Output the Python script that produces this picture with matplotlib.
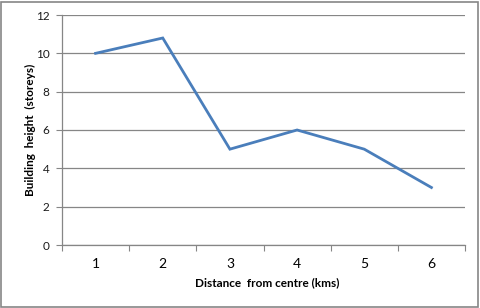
import matplotlib
matplotlib.use('Agg')
import matplotlib.pyplot as plt
from matplotlib.patches import Rectangle

# data
distance = [1, 2, 3, 4, 5, 6]
height = [10, 10.8, 5, 6, 5, 3]
yticks = [0, 2, 4, 6, 8, 10, 12]

grey = '#868686'
plt.rcParams['font.family'] = ['Lato', 'DejaVu Sans']

fig = plt.figure(figsize=(4.8, 3.08), dpi=100)
ax = fig.add_axes([62/480, 1 - 245/308, 403/480, 230/308])

ax.plot(distance, height, color='#4a7ebb', linewidth=2.0, solid_joinstyle='miter')

ax.set_xlim(0.5, 6.5)
ax.set_ylim(0, 12)
ax.set_yticks(yticks)
ax.grid(axis='y', color=grey, linewidth=0.9)
ax.set_axisbelow(True)

# category axis: ticks between categories, labels on centres
ax.set_xticks([x + 0.5 for x in [0] + distance])
ax.set_xticklabels([])
ax.set_xticks(distance, minor=True)
ax.set_xticklabels([str(d) for d in distance], minor=True)
ax.tick_params(axis='x', which='minor', length=0, pad=9)
ax.tick_params(axis='x', which='major', length=4, color=grey, direction='out')
ax.tick_params(axis='y', length=4, color=grey, direction='out', pad=5)
ax.tick_params(labelsize=8.5, labelcolor='#1a1a1a')

for s in ['top', 'right']:
    ax.spines[s].set_visible(False)
for s in ['left', 'bottom']:
    ax.spines[s].set_color(grey)
    ax.spines[s].set_linewidth(0.9)

fig.text(267/480, 1 - 283/308, 'Distance  from centre (kms)', fontsize=8.5, fontweight='bold',
         ha='center', va='center')
fig.text(30/480, 1 - 130/308, 'Building  height  (storeys)', fontsize=8.5, fontweight='bold',
         ha='center', va='center', rotation=90)

fig.patches.append(Rectangle((1/480, 1/308), 477/480, 305/308, transform=fig.transFigure,
                             fill=False, edgecolor=grey, linewidth=1.2))

fig.savefig('out.png', dpi=100)
